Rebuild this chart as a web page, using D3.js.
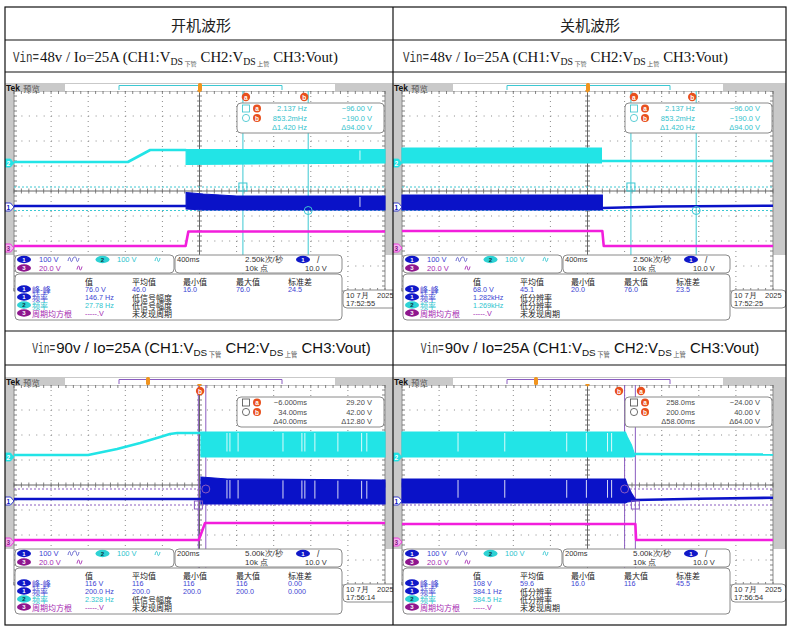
<!DOCTYPE html>
<html lang='zh'>
  <head>
    <meta charset='utf-8'>
    <title>开机 / 关机波形</title>
    <script type='text/javascript' src='https://cdn.jsdelivr.net/npm/d3@7'></script>
    <style>
      body { margin: 0; background: #fff; }
    </style>
  </head>
  <body>
    <script type='text/javascript'>

      // ---------- data ----------
      var titles = ['开机波形', '关机波形'];
      var vinLabels = ['48v', '90v'];
      var ioLabel = '25A';
      var chScales = ['100 V', '100 V', '20.0 V'];
      var timePerDiv = [400, 400, 200, 200];          // ms/div
      var sampleRates = ['2.50k次/秒', '2.50k次/秒', '5.00k次/秒', '5.00k次/秒'];
      var recordLength = '10k 点';
      var trigLevel = '10.0 V';
      var dates = ['10 7月', '2025'];
      var timeStamps = ['17:52:55', '17:52:25', '17:56:14', '17:56:54'];
      var refLevels = [-0.64, 1.12, -2.28];           // ground markers CH1..CH3, div

      // lines: [t ms, level div]   bands: [t ms, low div, high div]
      var ch2Line48on = [[-2000, 1.16], [-772, 1.16], [-532, 1.64], [-144, 1.64]];
      var ch2Band48on = [[-144, 1.06, 1.66], [2000, 1.12, 1.66]];
      var ch1Line48on = [[-2000, -0.6], [-144, -0.6]];
      var ch1Band48on = [[-144, -0.72, -0.06], [40, -0.76, -0.12], [400, -0.76, -0.2], [2000, -0.76, -0.2]];
      var ch3Line48on = [[-2000, -2.2], [-150, -2.2], [-120, -1.62], [2000, -1.62]];
      var gaps48on = [1730];

      var ch2Line48off = [[150, 1.2], [2000, 1.2]];
      var ch2Band48off = [[-2000, 1.12, 1.72], [150, 1.12, 1.72]];
      var ch1Line48off = [[160, -0.68], [800, -0.62], [2000, -0.59]];
      var ch1Band48off = [[-2000, -0.76, -0.16], [160, -0.76, -0.16]];
      var ch3Line48off = [[-2000, -1.6], [160, -1.6], [175, -2.2], [2000, -2.2]];
      var gaps48off = [];

      var ch2Line90on = [[-1000, 1.2], [-600, 1.2], [-444, 1.44], [-320, 1.68], [-212, 1.92], [-160, 2.04], [-120, 2.08], [8, 2.08]];
      var ch2Band90on = [[8, 1.12, 2.12], [1000, 1.12, 2.12]];
      var ch1Line90on = [[-1000, -0.56], [8, -0.56]];
      var ch1Band90on = [[8, -0.76, 0.32], [150, -0.76, 0.24], [1000, -0.76, 0.2]];
      var ch3Line90on = [[-1000, -2.2], [-4, -2.2], [30, -1.52], [1000, -1.52]];
      var gaps90on = [148, 164, 208, 450, 552, 568, 622, 746, 874, 902];

      var ch2Line90off = [[253, 1.24], [1000, 1.22]];
      var ch2Band90off = [[-1000, 1.12, 2.12], [204, 1.12, 2.12], [215, 1.12, 1.92], [237, 1.12, 1.6], [253, 1.14, 1.24]];
      var ch1Line90off = [[258, -0.6], [600, -0.55], [1000, -0.51]];
      var ch1Band90off = [[-1000, -0.72, 0.24], [204, -0.72, 0.24], [215, -0.68, 0.0], [237, -0.66, -0.32], [258, -0.64, -0.58]];
      var ch3Line90off = [[-1000, -1.56], [258, -1.56], [262, -2.2], [1000, -2.2]];
      var gaps90off = [-698, -446, -112, -6, 108, 130];

      // cursors: a, b
      var cursorT48 = [468, 1172];
      var cursorV48 = [0.16, -0.78];
      var cursorT90on = [-6, 34];
      var cursorV90on = [-0.8, -0.16];
      var cursorT90off = [258, 200];
      var cursorV90off = [-0.8, -0.16];

      var readout48 = [['2.137 Hz', '\u221296.00 V'], ['853.2mHz', '\u2212190.0 V'], ['\u03941.420 Hz', '\u039494.00 V']];
      var readout90on = [['\u22126.000ms', '29.20 V'], ['34.00ms', '42.00 V'], ['\u039440.00ms', '\u039412.80 V']];
      var readout90off = [['258.0ms', '\u221224.00 V'], ['200.0ms', '40.00 V'], ['\u039458.00ms', '\u039464.00 V']];

      var measHeads = ['值', '平均值', '最小值', '最大值', '标准差'];
      var measNames = ['峰-峰', '频率', '频率', '周期均方根'];
      var measCh = [1, 1, 2, 3];
      var meas48on = [['76.0 V', '46.0', '16.0', '76.0', '24.5'], ['146.7 Hz', '低信号幅度'], ['27.78 Hz', '低信号幅度'], ['-----.V', '未发现周期']];
      var meas48off = [['68.0 V', '45.1', '20.0', '76.0', '23.5'], ['1.282kHz', '低分辨率'], ['1.269kHz', '低分辨率'], ['-----.V', '未发现周期']];
      var meas90on = [['116 V', '116', '116', '116', '0.00'], ['200.0 Hz', '200.0', '200.0', '200.0', '0.000'], ['2.328 Hz', '低信号幅度'], ['-----.V', '未发现周期']];
      var meas90off = [['108 V', '59.6', '16.0', '116', '45.5'], ['384.1 Hz', '低分辨率'], ['384.5 Hz', '低分辨率'], ['-----.V', '未发现周期']];

      // ---------- styles ----------
      var cjk = 'Noto Sans CJK SC';
      var ui = 'Liberation Sans';
      var chColor = ['#0a12c8', '#22e4e6', '#f21edc'];
      var chText = ['#3a44d2', '#2cc4ce', '#a52ab2'];
      var chPill = ['#1018c8', '#2ed2d4', '#8e168e'];

      var scopes = [
        {gx0: 14, cy: 191, clip: 'c0', tdiv: timePerDiv[0], rate: sampleRates[0], stamp: timeStamps[0],
         ch1Line: ch1Line48on, ch1Band: ch1Band48on, ch2Line: ch2Line48on, ch2Band: ch2Band48on, ch3Line: ch3Line48on,
         gaps: gaps48on, curT: cursorT48, curV: cursorV48, readout: readout48, meas: meas48on,
         curColor: '#3cc8d2', roColor: '#34c2cc', tmark: 186},
        {gx0: 402, cy: 191, clip: 'c1', tdiv: timePerDiv[1], rate: sampleRates[1], stamp: timeStamps[1],
         ch1Line: ch1Line48off, ch1Band: ch1Band48off, ch2Line: ch2Line48off, ch2Band: ch2Band48off, ch3Line: ch3Line48off,
         gaps: gaps48off, curT: cursorT48, curV: cursorV48, readout: readout48, meas: meas48off,
         curColor: '#3cc8d2', roColor: '#34c2cc', tmark: 186},
        {gx0: 14, cy: 485, clip: 'c2', tdiv: timePerDiv[2], rate: sampleRates[2], stamp: timeStamps[2],
         ch1Line: ch1Line90on, ch1Band: ch1Band90on, ch2Line: ch2Line90on, ch2Band: ch2Band90on, ch3Line: ch3Line90on,
         gaps: gaps90on, curT: cursorT90on, curV: cursorV90on, readout: readout90on, meas: meas90on,
         curColor: '#8a5cc0', roColor: '#4a4a4a', tmark: 134},
        {gx0: 402, cy: 485, clip: 'c3', tdiv: timePerDiv[3], rate: sampleRates[3], stamp: timeStamps[3],
         ch1Line: ch1Line90off, ch1Band: ch1Band90off, ch2Line: ch2Line90off, ch2Band: ch2Band90off, ch3Line: ch3Line90off,
         gaps: gaps90off, curT: cursorT90off, curV: cursorV90off, readout: readout90off, meas: meas90off,
         curColor: '#8a5cc0', roColor: '#4a4a4a', tmark: 134}
      ];

      var svg = d3.select('body')
                  .append('svg')
                  .attr('width', 790)
                  .attr('height', 630)
                  .style('font-family', ui + ', ' + cjk + ', sans-serif');

      var defs = svg.append('defs');
      [[5, 72, 388, 259], [393, 72, 393, 259], [5, 365, 388, 260], [393, 365, 393, 260]].forEach(function(r, i){
        defs.append('clipPath').attr('id', 'c' + i)
            .append('rect').attr('x', r[0]).attr('y', r[1]).attr('width', r[2]).attr('height', r[3]);
      });

      function txt(g, x, y, s, size, fill, fam, anchor){
        return g.append('text')
                .attr('x', x).attr('y', y)
                .attr('font-size', size)
                .attr('fill', fill || '#222')
                .attr('font-family', fam || ui)
                .attr('text-anchor', anchor || 'start')
                .attr('dominant-baseline', 'central')
                .text(s);
      }

      function pill(g, cx, cy, ch){
        g.append('ellipse').attr('cx', cx).attr('cy', cy).attr('rx', 7).attr('ry', 3.7)
         .attr('fill', chPill[ch - 1]);
        txt(g, cx, cy + 0.3, String(ch), 6, ch === 2 ? '#0b3440' : '#fff', ui, 'middle')
          .attr('font-weight', 'bold');
      }

      function wave(g, x0, yc, color, n){
        var p = d3.path();
        p.moveTo(x0, yc + 1.5);
        for (var i = 0; i < n; i++){
          var s = x0 + i * 6;
          p.bezierCurveTo(s + 1, yc - 3, s + 2, yc - 3, s + 2.5, yc);
          p.bezierCurveTo(s + 3, yc + 3, s + 4, yc + 3, s + 5, yc - 1.5);
        }
        g.append('path').attr('d', p.toString()).attr('fill', 'none')
         .attr('stroke', color).attr('stroke-width', 0.9);
      }

      function roundBox(g, x, y, w, h){
        return g.append('rect').attr('x', x).attr('y', y).attr('width', w).attr('height', h)
                .attr('rx', 4).attr('fill', '#fff').attr('stroke', '#8a8a8a').attr('stroke-width', 1);
      }

      function bandAt(band, t){
        for (var i = 0; i < band.length - 1; i++){
          var a = band[i], b = band[i + 1];
          if (t >= a[0] && t <= b[0]){
            var k = (t - a[0]) / (b[0] - a[0] || 1);
            return [a[1] + k * (b[1] - a[1]), a[2] + k * (b[2] - a[2])];
          }
        }
        return null;
      }

      function drawScope(p){
        var g = svg.append('g').attr('clip-path', 'url(#' + p.clip + ')');
        var gx0 = p.gx0, cy = p.cy;
        var x = d3.scaleLinear().domain([-5 * p.tdiv, 5 * p.tdiv]).range([gx0, gx0 + 371]);
        var y = d3.scaleLinear().domain([-4, 4]).range([cy + 100, cy - 100]);
        var xt = d3.range(-4, 5).filter(function(k){ return k !== 0; }).map(function(k){ return k * p.tdiv; });
        var yt = [-3, -2, -1, 1, 2, 3];

        // frame
        g.append('rect').attr('x', gx0 - 9).attr('y', cy - 108).attr('width', 393).attr('height', 172)
         .attr('fill', '#c9c9c9');
        g.append('rect').attr('x', x(-5 * p.tdiv)).attr('y', y(4)).attr('width', 371).attr('height', 200)
         .attr('fill', '#fff').attr('stroke', '#8c8c8c').attr('stroke-width', 1);

        // graticule
        g.selectAll('.vg').data(xt).enter().append('line')
         .attr('x1', function(d){ return x(d); }).attr('x2', function(d){ return x(d); })
         .attr('y1', y(4)).attr('y2', y(-4))
         .attr('stroke', '#8a8a8a').attr('stroke-width', 1).attr('stroke-dasharray', '1,4');
        g.selectAll('.hg').data(yt).enter().append('line')
         .attr('x1', x(-5 * p.tdiv)).attr('x2', x(5 * p.tdiv))
         .attr('y1', function(d){ return y(d); }).attr('y2', function(d){ return y(d); })
         .attr('stroke', '#8a8a8a').attr('stroke-width', 1).attr('stroke-dasharray', '1,6.42');
        g.append('line').attr('x1', x(-5 * p.tdiv)).attr('x2', x(5 * p.tdiv)).attr('y1', y(0)).attr('y2', y(0))
         .attr('stroke', '#555').attr('stroke-width', 0.9);
        g.append('line').attr('x1', x(0)).attr('x2', x(0)).attr('y1', y(4)).attr('y2', y(-4))
         .attr('stroke', '#555').attr('stroke-width', 0.9);
        var minorT = d3.range(-25, 26).map(function(k){ return k * p.tdiv / 5; });
        var minorV = d3.range(-20, 21).map(function(k){ return k / 5; });
        var tk = g.append('g').attr('stroke', '#666').attr('stroke-width', 0.8);
        minorT.forEach(function(t){
          tk.append('line').attr('x1', x(t)).attr('x2', x(t)).attr('y1', y(0) - 2.5).attr('y2', y(0) + 2.5);
          tk.append('line').attr('x1', x(t)).attr('x2', x(t)).attr('y1', y(4)).attr('y2', y(4) + 3);
          tk.append('line').attr('x1', x(t)).attr('x2', x(t)).attr('y1', y(-4)).attr('y2', y(-4) - 3);
        });
        minorV.forEach(function(v){
          tk.append('line').attr('x1', x(0) - 2.5).attr('x2', x(0) + 2.5).attr('y1', y(v)).attr('y2', y(v));
          tk.append('line').attr('x1', x(-5 * p.tdiv)).attr('x2', x(-5 * p.tdiv) + 3).attr('y1', y(v)).attr('y2', y(v));
          tk.append('line').attr('x1', x(5 * p.tdiv)).attr('x2', x(5 * p.tdiv) - 3).attr('y1', y(v)).attr('y2', y(v));
        });

        // cursors
        p.curT.forEach(function(t){
          g.append('line').attr('x1', x(t)).attr('x2', x(t)).attr('y1', y(4)).attr('y2', y(-4))
           .attr('stroke', p.curColor).attr('stroke-width', 1);
        });
        p.curV.forEach(function(v){
          g.append('line').attr('x1', x(-5 * p.tdiv)).attr('x2', x(5 * p.tdiv)).attr('y1', y(v)).attr('y2', y(v))
           .attr('stroke', p.curColor).attr('stroke-width', 1).attr('stroke-dasharray', '2,2');
        });

        // traces
        var line = d3.line().x(function(d){ return x(d[0]); }).y(function(d){ return y(d[1]); });
        var area = d3.area().x(function(d){ return x(d[0]); })
                     .y0(function(d){ return y(d[1]); }).y1(function(d){ return y(d[2]); });
        [[p.ch3Line, null, 2], [p.ch2Line, p.ch2Band, 1], [p.ch1Line, p.ch1Band, 0]].forEach(function(c){
          if (c[1]) {
            g.append('path').attr('d', area(c[1])).attr('fill', chColor[c[2]])
             .attr('stroke', chColor[c[2]]).attr('stroke-width', 1.2);
          }
          g.append('path').attr('d', line(c[0])).attr('fill', 'none')
           .attr('stroke', chColor[c[2]]).attr('stroke-width', 2.6).attr('stroke-linejoin', 'round');
        });
        p.gaps.forEach(function(t){
          [p.ch2Band, p.ch1Band].forEach(function(b){
            var lh = bandAt(b, t);
            if (!lh) return;
            g.append('line').attr('x1', x(t)).attr('x2', x(t))
             .attr('y1', y(lh[1] - 0.04)).attr('y2', y(lh[0] + (lh[1] - lh[0]) * 0.22))
             .attr('stroke', '#fff').attr('stroke-width', 1).attr('opacity', 0.85);
          });
        });

        // cursor markers
        g.append('rect').attr('x', x(p.curT[0]) - 4).attr('y', y(p.curV[0]) - 4).attr('width', 8).attr('height', 8)
         .attr('fill', 'none').attr('stroke', p.curColor).attr('stroke-width', 1);
        g.append('circle').attr('cx', x(p.curT[1])).attr('cy', y(p.curV[1])).attr('r', 4)
         .attr('fill', 'none').attr('stroke', p.curColor).attr('stroke-width', 1);

        // ground markers
        refLevels.forEach(function(v, i){
          var yy = y(v), xm = gx0 - 9;
          g.append('path')
           .attr('d', 'M' + xm + ',' + (yy - 4) + 'h5.5l3.5,4l-3.5,4h-5.5z')
           .attr('fill', i === 0 ? '#fff' : (i === 1 ? chColor[1] : '#f4b4ee'))
           .attr('stroke', chColor[i]).attr('stroke-width', 0.8);
          txt(g, xm + 3.2, yy + 0.3, String(i + 1), 6.5, i === 1 ? '#fff' : (i === 0 ? chColor[0] : chPill[2]), ui, 'middle')
            .attr('font-weight', 'bold');
        });

        // top bar
        g.append('rect').attr('x', gx0 - 9).attr('y', cy - 108).attr('width', 393).attr('height', 8).attr('fill', '#c9c9c9');
        g.append('rect').attr('x', gx0 + 51).attr('y', cy - 107).attr('width', 270).attr('height', 7).attr('fill', '#fff');
        g.append('path').attr('d', 'M' + (gx0 + 105) + ',' + (cy - 101) + 'V' + (cy - 105.5) + 'H' + (gx0 + 268) + 'V' + (cy - 101))
         .attr('fill', 'none').attr('stroke', p.curColor).attr('stroke-width', 1);
        g.append('rect').attr('x', gx0 + p.tmark - 2).attr('y', cy - 108).attr('width', 4).attr('height', 8)
         .attr('rx', 1.5).attr('fill', '#f0941e');
        g.append('path').attr('d', 'M' + (x(0) - 2.5) + ',' + (cy - 101) + 'h5l-2.5,3z').attr('fill', '#f0941e');
        txt(g, gx0 - 8, cy - 103.5, 'Tek', 8.5, '#111', ui).attr('font-weight', 'bold');
        txt(g, gx0 + 9, cy - 103.5, '预览', 8.5, '#555', cjk);

        // cursor readout
        roundBox(g, gx0 + 223, cy - 88, 147, 30);
        var rowY = [cy - 82.5, cy - 73, cy - 63.5];
        g.append('rect').attr('x', gx0 + 228.5).attr('y', rowY[0] - 3.5).attr('width', 7).attr('height', 7)
         .attr('fill', 'none').attr('stroke', p.roColor).attr('stroke-width', 0.8);
        g.append('circle').attr('cx', gx0 + 232).attr('cy', rowY[1]).attr('r', 3.6)
         .attr('fill', 'none').attr('stroke', p.roColor).attr('stroke-width', 0.8);
        ['a', 'b'].forEach(function(l, i){
          g.append('circle').attr('cx', gx0 + 243).attr('cy', rowY[i]).attr('r', 4).attr('fill', '#e8501e');
          txt(g, gx0 + 243, rowY[i] + 0.2, l, 6.5, '#fff', ui, 'middle').attr('font-weight', 'bold');
        });
        p.readout.forEach(function(r, i){
          txt(g, gx0 + 293, rowY[i], r[0], 7.5, p.roColor, ui, 'end');
          txt(g, gx0 + 358, rowY[i], r[1], 7.5, p.roColor, ui, 'end');
        });

        // cursor tags above the readout
        var ax = x(p.curT[0]), bx = x(p.curT[1]);
        var tags = [];
        if (Math.abs(ax - bx) < 10) {
          tags.push(['b', (ax + bx) / 2 - 2]);
        } else if (Math.abs(ax - bx) < 16) {
          var m = (ax + bx) / 2;
          tags.push(['a', ax > bx ? m + 11 : m - 11]);
          tags.push(['b', ax > bx ? m - 11 : m + 11]);
        } else {
          tags.push(['a', ax + 3]);
          tags.push(['b', bx - 4]);
        }
        tags.forEach(function(tg){
          g.append('circle').attr('cx', tg[1]).attr('cy', cy - 94).attr('r', 4.2).attr('fill', '#e8501e');
          txt(g, tg[1], cy - 93.8, tg[0], 6.5, '#fff', ui, 'middle').attr('font-weight', 'bold');
        });

        // channel panel
        roundBox(g, gx0 + 1, cy + 64, 159, 18);
        var r1 = cy + 68.5, r2 = cy + 77;
        pill(g, gx0 + 10, r1, 1);
        txt(g, gx0 + 25, r1, chScales[0], 7.5, chText[0]);
        wave(g, gx0 + 54, r1, '#5a5ac8', 2);
        pill(g, gx0 + 88.5, r1, 2);
        txt(g, gx0 + 103, r1, chScales[1], 7.5, chText[1]);
        wave(g, gx0 + 141, r1, chText[1], 1);
        pill(g, gx0 + 10, r2, 3);
        txt(g, gx0 + 25, r2, chScales[2], 7.5, chText[2]);
        wave(g, gx0 + 63, r2, chText[2], 1);

        // timebase panel
        roundBox(g, gx0 + 161, cy + 64, 167, 18);
        txt(g, gx0 + 163, r1, p.tdiv + 'ms', 7.5, '#333');
        txt(g, gx0 + 231, r1, p.rate, 8, '#333');
        pill(g, gx0 + 289, r1, 1);
        txt(g, gx0 + 303, r1, '/', 8.5, '#333');
        txt(g, gx0 + 231, r2, recordLength, 8, '#333');
        txt(g, gx0 + 291, r2, trigLevel, 7.5, '#333');

        // measurement panel
        roundBox(g, gx0 + 1, cy + 83, 327, 46);
        var colX = [71, 118, 169, 222, 274];
        measHeads.forEach(function(h, i){
          txt(g, gx0 + colX[i], cy + 90, h, 8, '#222', cjk);
        });
        p.meas.forEach(function(row, r){
          var yy = cy + 98 + r * 8;
          var ch = measCh[r];
          pill(g, gx0 + 10, yy, ch);
          txt(g, gx0 + 18, yy, measNames[r], 8, chText[ch - 1], cjk);
          row.forEach(function(v, i){
            var note = /[\u4e00-\u9fff]/.test(v);
            txt(g, gx0 + colX[i], yy, v, note ? 8 : 7.2, note ? '#222' : chText[ch - 1], note ? cjk : ui);
          });
        });

        // date box
        roundBox(g, gx0 + 329, cy + 99, 55, 18);
        txt(g, gx0 + 332, cy + 104.5, dates[0], 7.5, '#333');
        txt(g, gx0 + 363, cy + 104.5, dates[1], 7.5, '#333');
        txt(g, gx0 + 332, cy + 112.5, p.stamp, 7.5, '#333');
      }

      scopes.forEach(drawScope);

      // ---------- table ----------
      function subtitle(x0, yb, vin, fam, size, monoW, centerX){
        var g = svg.append('g');
        var pieces = [
          {t: 'Vin=', f: 'Liberation Mono', s: size, w: monoW, c: '#333'},
          {t: vin + ' / Io=' + ioLabel + ' (CH1:V', f: fam, s: size},
          {t: 'DS', f: fam, s: size * 0.66, dy: 2.5},
          {t: '下管', f: cjk, s: size * 0.42, dy: 4, c: '#555', pre: 1.5},
          {t: ' CH2:V', f: fam, s: size},
          {t: 'DS', f: fam, s: size * 0.66, dy: 2.5},
          {t: ' 上管', f: cjk, s: size * 0.42, dy: 4, c: '#555'},
          {t: ' CH3:Vout)', f: fam, s: size}
        ];
        var xx = x0;
        pieces.forEach(function(pc){
          xx += pc.pre || 0;
          var el = g.append('text').attr('x', xx).attr('y', yb + (pc.dy || 0))
                    .attr('font-family', pc.f).attr('font-size', pc.s)
                    .attr('fill', pc.c || '#111').attr('xml:space', 'preserve')
                    .style('white-space', 'pre').text(pc.t);
          if (pc.w) {
            el.attr('textLength', pc.w).attr('lengthAdjust', 'spacingAndGlyphs');
            xx += pc.w + 1;
          } else {
            xx += el.node().getComputedTextLength();
          }
        });
        if (centerX !== undefined) {
          g.attr('transform', 'translate(' + (centerX - (x0 + xx) / 2) + ',0)');
        }
      }

      titles.forEach(function(t, i){
        svg.append('text').attr('x', i === 0 ? 201 : 590).attr('y', 31)
           .attr('text-anchor', 'middle').attr('font-family', cjk)
           .attr('font-size', 15).attr('fill', '#222').text(t);
      });
      subtitle(13, 62, vinLabels[0], 'Liberation Serif', 14.8, 26);
      subtitle(403, 62, vinLabels[0], 'Liberation Serif', 14.8, 26);
      subtitle(0, 353, vinLabels[1], ui, 15, 23, 201.5);
      subtitle(0, 353, vinLabels[1], ui, 15, 23, 590);

      var tb = svg.append('g').attr('stroke', '#111').attr('stroke-width', 1.2).attr('fill', 'none');
      tb.append('rect').attr('x', 5).attr('y', 7).attr('width', 781).attr('height', 618);
      tb.append('line').attr('x1', 393).attr('x2', 393).attr('y1', 7).attr('y2', 625);
      [40, 72, 331, 365].forEach(function(yy){
        tb.append('line').attr('x1', 5).attr('x2', 786).attr('y1', yy).attr('y2', yy);
      });

    </script>
  </body>
</html>
